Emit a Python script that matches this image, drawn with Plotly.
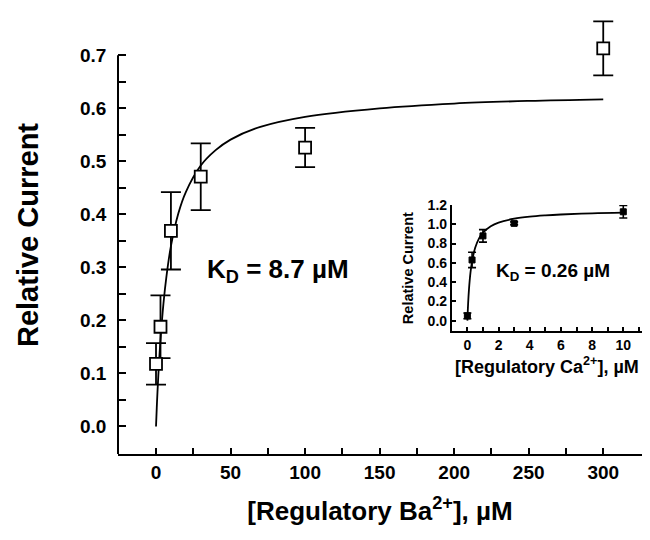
import plotly.graph_objects as go

# ---- main panel data (Ba2+) ----
ba_conc = [0, 3, 10, 30, 100, 300]
ba_current = [0.118, 0.188, 0.369, 0.471, 0.526, 0.713]
ba_err = [0.039, 0.059, 0.073, 0.063, 0.037, 0.051]

# fit curve
ba_fit_x = [0, 0.5, 1, 2, 3, 5, 7, 10, 15, 20, 30, 40, 50, 70, 100, 150, 200, 250, 300]
ba_fit_y = [0.0, 0.035, 0.066, 0.119, 0.163, 0.232, 0.283, 0.340, 0.402, 0.442, 0.492,
            0.521, 0.541, 0.565, 0.584, 0.600, 0.609, 0.614, 0.617]

# ---- inset data (Ca2+) ----
ca_conc = [0, 0.3, 1, 3, 10]
ca_current = [0.05, 0.63, 0.88, 1.01, 1.13]
ca_err = [0.03, 0.08, 0.065, 0.015, 0.065]

ca_fit_x = [0, 0.05, 0.1, 0.2, 0.3, 0.5, 0.75, 1, 1.5, 2, 3, 4, 5, 6, 8, 10]
ca_fit_y = [0.0, 0.185, 0.319, 0.500, 0.616, 0.757, 0.854, 0.913, 0.980, 1.018,
            1.058, 1.080, 1.093, 1.102, 1.114, 1.121]

# tick positions (major ones labelled, minor ones blank)
main_ytick_vals = [0.0, 0.05, 0.1, 0.15, 0.2, 0.25, 0.3, 0.35, 0.4, 0.45, 0.5, 0.55, 0.6, 0.65, 0.7]
main_ytick_text = ["0.0", "", "0.1", "", "0.2", "", "0.3", "", "0.4", "", "0.5", "", "0.6", "", "0.7"]
main_xtick_vals = [0, 25, 50, 75, 100, 125, 150, 175, 200, 225, 250, 275, 300]
main_xtick_text = ["0", "", "50", "", "100", "", "150", "", "200", "", "250", "", "300"]
inset_ytick_vals = [0.0, 0.2, 0.4, 0.6, 0.8, 1.0, 1.2]
inset_ytick_text = ["0.0", "0.2", "0.4", "0.6", "0.8", "1.0", "1.2"]
inset_xtick_vals = [0, 1, 2, 3, 4, 5, 6, 7, 8, 9, 10, 11]
inset_xtick_text = ["0", "", "2", "", "4", "", "6", "", "8", "", "10", ""]

FONT = "Liberation Sans, Arial, sans-serif"
NB = "\u00a0"

# layout geometry (pixels)
W, H = 650, 540
ML, MR, MT, MB = 118, 8, 8, 86
plot_h = H - MT - MB            # 446
axis_top_px = 48                # where the drawn y axis (0.7) ends
y_lo, y_axis_end = -0.052, 0.7
px_per_unit = (H - MB - axis_top_px) / (y_axis_end - y_lo)
y_hi = y_lo + plot_h / px_per_unit   # same scale, extended to the top of the plot area


def dom(px_bottom, px_top):
    return [(H - MB - px_bottom) / plot_h, (H - MB - px_top) / plot_h]


fig = go.Figure()

fig.add_trace(go.Scatter(
    x=ba_fit_x, y=ba_fit_y, mode="lines", line=dict(color="black", width=1.8, shape="spline"),
    xaxis="x", yaxis="y", showlegend=False, hoverinfo="skip"))
fig.add_trace(go.Scatter(
    x=ba_conc, y=ba_current, mode="markers",
    marker=dict(symbol="square", size=12, color="white", line=dict(color="black", width=1.8)),
    error_y=dict(type="data", array=ba_err, color="black", thickness=1.8, width=10),
    cliponaxis=False, xaxis="x", yaxis="y", showlegend=False))

fig.add_trace(go.Scatter(
    x=ca_fit_x, y=ca_fit_y, mode="lines", line=dict(color="black", width=1.8, shape="spline"),
    xaxis="x2", yaxis="y2", showlegend=False, hoverinfo="skip"))
fig.add_trace(go.Scatter(
    x=ca_conc, y=ca_current, mode="markers",
    marker=dict(symbol="square", size=6, color="black", line=dict(color="black", width=1)),
    error_y=dict(type="data", array=ca_err, color="black", thickness=1.6, width=4),
    cliponaxis=False, xaxis="x2", yaxis="y2", showlegend=False))

fig.update_layout(
    width=W, height=H,
    margin=dict(l=ML, r=MR, t=MT, b=MB),
    paper_bgcolor="white", plot_bgcolor="white",
    font=dict(family=FONT, color="black"),
    xaxis=dict(showgrid=False, zeroline=False, showline=True, linecolor="black", linewidth=2,
               ticks="inside", tickcolor="black", ticklen=6, tickwidth=2,
               domain=[0, 1], range=[-25.5, 326],
               tickmode="array", tickvals=main_xtick_vals, ticktext=main_xtick_text,
               tickfont=dict(size=19, weight="bold"),
               title=dict(text="[Regulatory Ba<sup>2+</sup>], µM", font=dict(size=26, weight="bold"), standoff=20),
               anchor="y"),
    yaxis=dict(showgrid=False, zeroline=False, showline=False,
               ticks="inside", tickcolor="black", ticklen=8, tickwidth=2,
               domain=[0, 1], range=[y_lo, y_hi],
               tickmode="array", tickvals=main_ytick_vals,
               ticktext=[t + NB * 2 if t else t for t in main_ytick_text],
               tickfont=dict(size=19, weight="bold"),
               title=dict(text="Relative Current", font=dict(size=29, weight="bold"), standoff=32),
               anchor="x"),
    xaxis2=dict(showgrid=False, zeroline=False, showline=True, linecolor="black", linewidth=1.8,
                ticks="inside", tickcolor="black", ticklen=4, tickwidth=1.6,
                domain=[0.637, 1.0], range=[-1.0, 11.2],
                tickmode="array", tickvals=inset_xtick_vals, ticktext=inset_xtick_text,
                tickfont=dict(size=14, weight="bold"),
                title=dict(text="[Regulatory Ca<sup>2+</sup>], µM", font=dict(size=18, weight="bold"), standoff=8),
                anchor="y2"),
    yaxis2=dict(showgrid=False, zeroline=False, showline=True, linecolor="black", linewidth=1.8,
                ticks="inside", tickcolor="black", ticklen=4, tickwidth=1.6,
                domain=dom(329, 200.5), range=[-0.11, 1.2],
                tickmode="array", tickvals=inset_ytick_vals, ticktext=inset_ytick_text,
                tickfont=dict(size=14, weight="bold"),
                title=dict(text="Relative Current", font=dict(size=14.5, weight="bold"), standoff=11),
                anchor="x2"),
    shapes=[
        # main y-axis line, ending at the top tick (0.7)
        dict(type="line", xref="x domain", yref="y", x0=0, x1=0, y0=y_lo, y1=y_axis_end,
             line=dict(color="black", width=2), layer="above"),
    ],
    annotations=[
        dict(text="K<sub>D</sub> = 8.7 µM", x=33, y=0.295, xref="x", yref="y", xanchor="left",
             showarrow=False, font=dict(size=26, weight="bold")),
        dict(text="K<sub>D</sub> = 0.26 µM", x=1.7, y=0.5, xref="x2", yref="y2", xanchor="left",
             showarrow=False, font=dict(size=19, weight="bold")),
    ],
)

fig.write_html("out.html")
